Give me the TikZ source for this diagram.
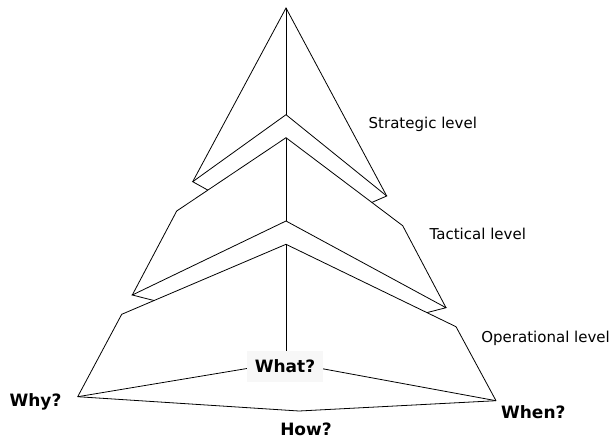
\documentclass[tikz,border=0pt]{standalone}
\usepackage{fontspec}
\setmainfont{DejaVu Sans}
\usepackage{tikz}
\usetikzlibrary{calc}

\begin{document}
\begin{tikzpicture}[x=1pt,y=-1pt,line width=0.8pt,
		lvl/.style={anchor=base west,inner sep=0pt,font=\fontsize{15}{18}\selectfont},
		quest/.style={anchor=base,inner sep=0pt,font=\fontsize{17}{20}\selectfont\bfseries}]
	\useasboundingbox (0,0) rectangle (609,439);
	% corners of the three levels
	\coordinate (A1) at (286,8);
	\coordinate (L1) at (192.7,181.7);
	\coordinate (R1) at (386.7,196);
	\coordinate (N1) at (286,114.7);
	\coordinate (A2) at (286,137.7);
	\coordinate (L2) at (176.7,211);
	\coordinate (R2) at (402.7,225.7);
	\coordinate (L2b) at (132.3,295);
	\coordinate (R2b) at (446,307.7);
	\coordinate (N2) at (286,221);
	\coordinate (A3) at (286,244.3);
	\coordinate (L3) at (121.7,314.3);
	\coordinate (R3) at (456,326.7);
	\coordinate (why) at (77.7,396.7);
	\coordinate (when) at (496,400.7);
	\coordinate (how) at (299,411);
	\coordinate (what) at (286,362);
	\coordinate (S1l) at (208,190.2);
	\coordinate (S1r) at (371.7,202.5);
	\coordinate (S2l) at (154.3,300.6);
	\coordinate (S2r) at (427,312.6);

	% strategic level
	\draw (L1)--(A1)--(R1);
	\draw (A1)--(N1);
	\draw (S1l)--(L1)--(N1)--(R1)--(S1r);
	% tactical level
	\draw (L2b)--(L2)--(A2)--(R2)--(R2b);
	\draw (A2)--(N2);
	\draw (S2l)--(L2b)--(N2)--(R2b)--(S2r);
	% operational level
	\draw (when)--(R3)--(A3)--(L3)--(why);
	\draw (A3)--(what);
	\draw (why)--(what)--(when);
	\draw (why)--(how)--(when);

	\node[quest,fill=gray!6,minimum width=75.4pt,minimum height=30.7pt,anchor=center] (whatlbl) at (285,366.4) {What?};
	\node[quest] (whylbl) at (35.5,406.7) {Why?};
	\node[quest] (whenlbl) at (533.3,418.3) {When?};
	\node[quest] (howlbl) at (306,435) {How?};

	\node[lvl] (strat) at (368.3,128.3) {Strategic level};
	\node[lvl] (tact) at (429.3,239.3) {Tactical level};
	\node[lvl] (oper) at (481,342.3) {Operational level};
\end{tikzpicture}
\end{document}
